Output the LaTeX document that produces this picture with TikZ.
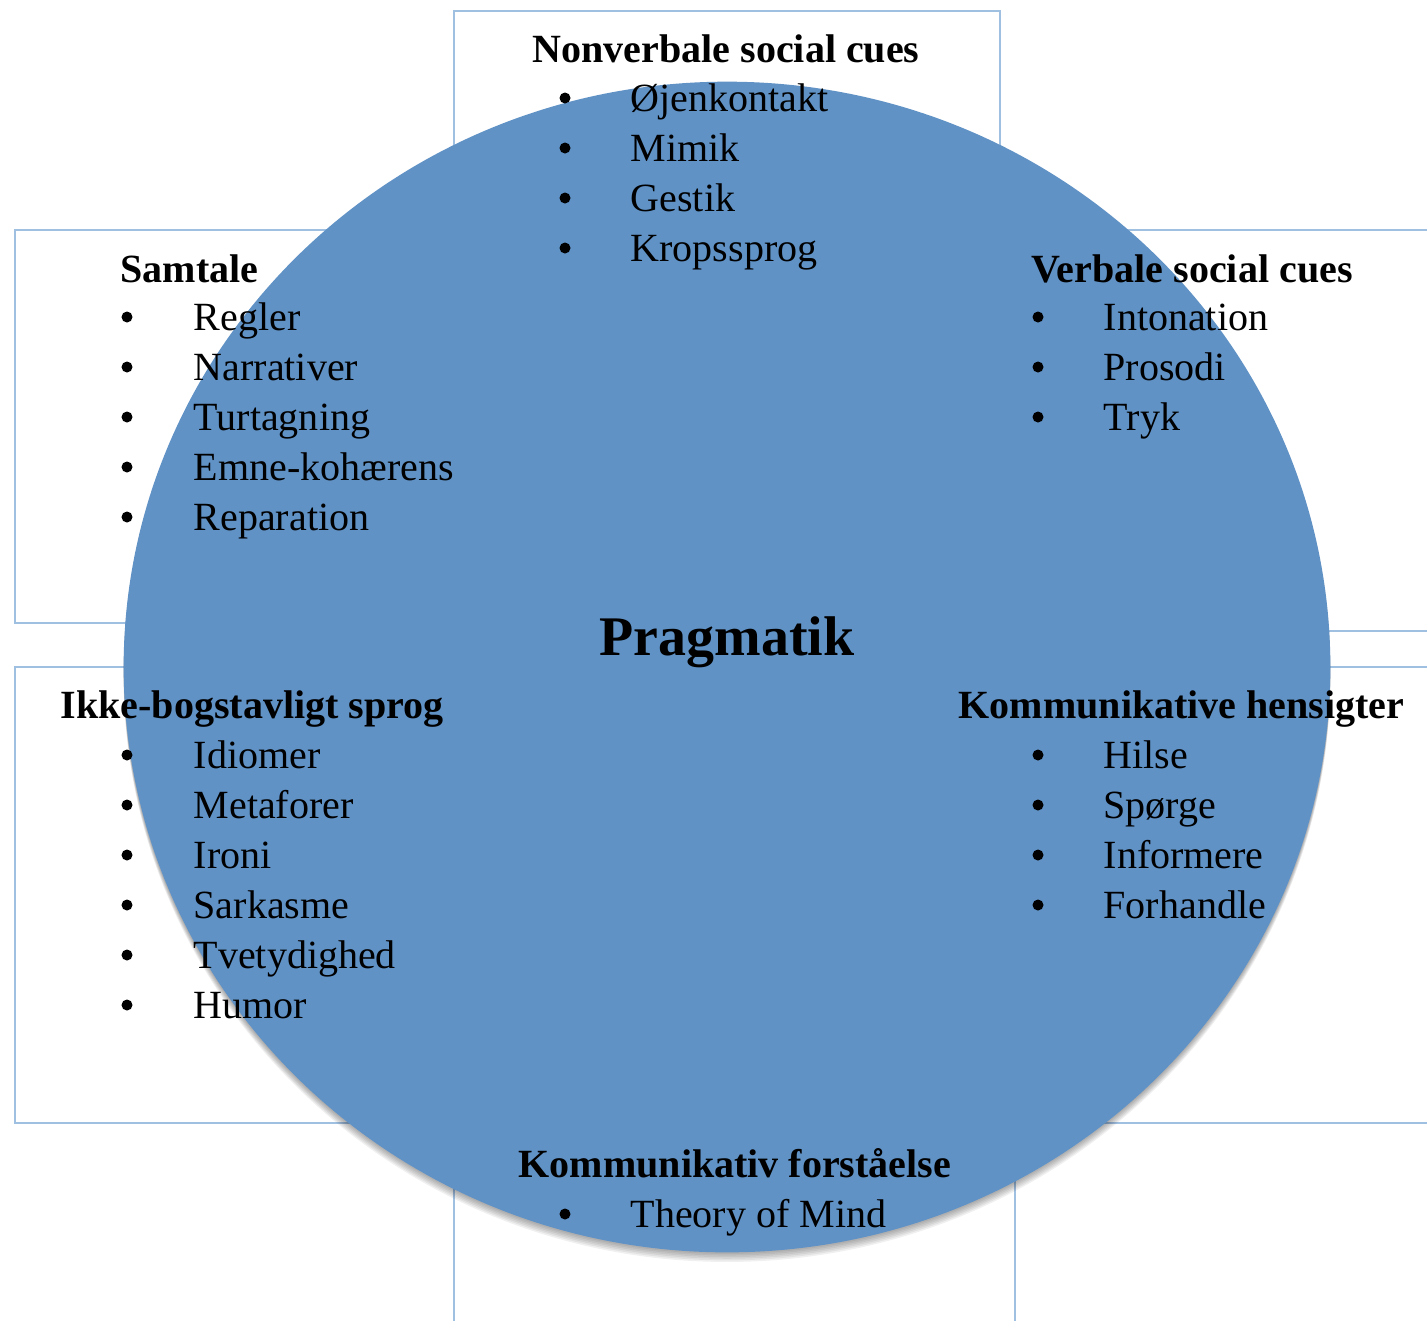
\documentclass[tikz,border=0pt]{standalone}
\usepackage{fontspec}
\setmainfont{Liberation Serif}
\definecolor{circfill}{RGB}{96,146,198}
\definecolor{boxline}{RGB}{160,192,226}
\begin{document}
\begin{tikzpicture}[x=0.01cm,y=-0.01cm,
  panel/.style={draw=boxline,line width=0.6pt,fill=white},
  head/.style={anchor=base west,inner sep=0pt,font=\fontsize{11.38}{14}\selectfont\bfseries},
  item/.style={anchor=base west,inner sep=0pt,font=\fontsize{11.38}{14}\selectfont},
  bul/.style={circle,fill=black,inner sep=0pt,minimum size=0.11cm}]
\useasboundingbox (0,0) rectangle (1427,1320);
\clip (0,0) rectangle (1427,1320);
% background panels
\path[panel] (454,11) rectangle (1000,500);
\path[panel] (15,230) rectangle (500,623);
\path[panel] (950,230) rectangle (1440,631);
\path[panel] (15,667) rectangle (500,1123);
\path[panel] (950,667) rectangle (1440,1123);
\path[panel] (454,1000) rectangle (1015,1340);
% soft shadow of the central circle
\foreach \s in {1,...,6}{
  \fill[black,opacity=0.06] (727,667+\s*1.6) ellipse [x radius=6.03cm, y radius=5.85cm];
}
% central circle
\fill[circfill] (727,667) ellipse [x radius=6.03cm, y radius=5.85cm];
\node[anchor=base,inner sep=0pt,font=\fontsize{15.9}{18}\selectfont\bfseries] (pragm) at (727,655) {Pragmatik};
% Nonverbale social cues
\node[head] (nvh) at (532,62) {Nonverbale social cues};
\foreach \t [count=\i] in {Øjenkontakt,Mimik,Gestik,Kropssprog}{
  \node[bul] (nvb\i) at (565,48+50*\i) {};
  \node[item] (nv\i) at (630,61+50*\i) {\t};
}
% Samtale
\node[head] (sah) at (120,282) {Samtale};
\foreach \t [count=\i] in {Regler,Narrativer,Turtagning,Emne-kohærens,Reparation}{
  \node[bul] (sab\i) at (127,267+50*\i) {};
  \node[item] (sa\i) at (193,280+50*\i) {\t};
}
% Verbale social cues
\node[head] (veh) at (1031,282) {Verbale social cues};
\foreach \t [count=\i] in {Intonation,Prosodi,Tryk}{
  \node[bul] (veb\i) at (1038,267+50*\i) {};
  \node[item] (ve\i) at (1103,280+50*\i) {\t};
}
% Ikke-bogstavligt sprog
\node[head] (ikh) at (60,718) {Ikke-bogstavligt sprog};
\foreach \t [count=\i] in {Idiomer,Metaforer,Ironi,Sarkasme,Tvetydighed,Humor}{
  \node[bul] (ikb\i) at (127,705+50*\i) {};
  \node[item] (ik\i) at (193,718+50*\i) {\t};
}
% Kommunikative hensigter
\node[head] (khh) at (958,718) {Kommunikative hensigter};
\foreach \t [count=\i] in {Hilse,Spørge,Informere,Forhandle}{
  \node[bul] (khb\i) at (1038,705+50*\i) {};
  \node[item] (kh\i) at (1103,718+50*\i) {\t};
}
% Kommunikativ forstaaelse
\node[head] (kfh) at (518,1177) {Kommunikativ forståelse};
\node[bul] (kfb1) at (565,1214) {};
\node[item] (kf1) at (630,1227) {Theory of Mind};
\end{tikzpicture}
\end{document}
